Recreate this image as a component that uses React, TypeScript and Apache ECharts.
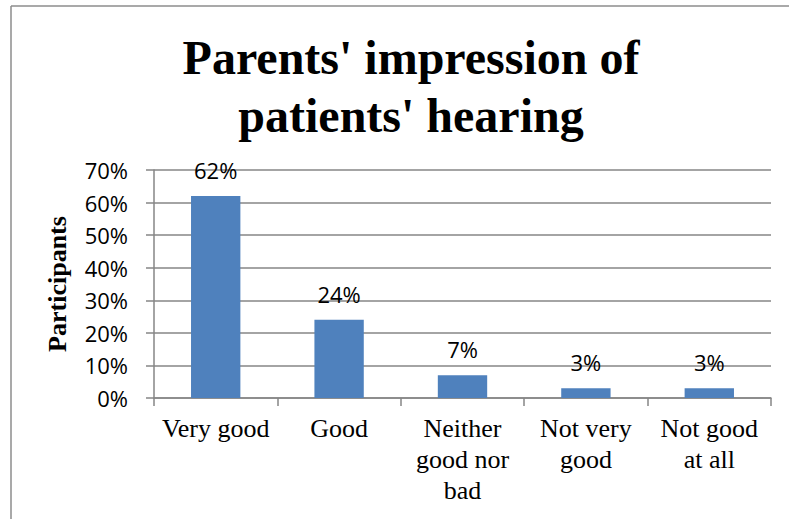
import React, { useEffect, useRef } from "react";
import * as echarts from "echarts";

const titleText = "Parents' impression of\npatients' hearing";
const categories = ["Very good", "Good", "Neither\ngood nor\nbad", "Not very\ngood", "Not good\nat all"];
const values = [62, 24, 7, 3, 3];
const yAxisName = "Participants";

export default function App() {
  const ref = useRef<HTMLDivElement>(null);
  useEffect(() => {
    if (!ref.current) return;
    const chart = echarts.init(ref.current, null, { renderer: "svg" });
    const gray = "#868686";
    chart.setOption({
      animation: false,
      backgroundColor: "#ffffff",
      title: {
        text: titleText,
        left: 406,
        top: 23,
        textAlign: "center",
        textStyle: {
          fontFamily: "Liberation Serif",
          fontWeight: "bold",
          fontSize: 48,
          lineHeight: 58,
          color: "#000",
        },
      },
      graphic: [
        { type: "line", shape: { x1: 11, y1: 6, x2: 789, y2: 6 }, style: { stroke: "#8c8c8c", lineWidth: 1.5 } },
        { type: "line", shape: { x1: 11, y1: 6, x2: 11, y2: 519 }, style: { stroke: "#8c8c8c", lineWidth: 1.5 } },
      ],
      grid: { left: 154, right: 18, top: 170, bottom: 121, containLabel: false },
      xAxis: {
        type: "category",
        data: categories,
        axisLine: { lineStyle: { color: gray, width: 1.5 } },
        axisTick: { show: true, length: 8, lineStyle: { color: gray, width: 1.5 } },
        axisLabel: {
          interval: 0,
          margin: 15,
          fontFamily: "Liberation Serif",
          fontSize: 26,
          lineHeight: 31,
          color: "#000",
        },
      },
      yAxis: {
        type: "value",
        min: 0,
        max: 70,
        interval: 10,
        name: yAxisName,
        nameLocation: "middle",
        nameGap: 84,
        nameTextStyle: {
          fontFamily: "Liberation Serif",
          fontWeight: "bold",
          fontSize: 26,
          color: "#000",
        },
        axisLine: { show: true, lineStyle: { color: gray, width: 1.5 } },
        axisTick: { show: true, length: 8, lineStyle: { color: gray, width: 1.5 } },
        splitLine: { show: true, lineStyle: { color: gray, width: 1.5 } },
        axisLabel: {
          formatter: "{value}%",
          margin: 26,
          fontFamily: "Open Sans",
          fontSize: 22,
          color: "#000",
        },
      },
      series: [
        {
          type: "bar",
          data: values,
          barCategoryGap: "60%",
          itemStyle: { color: "#4F81BD" },
          label: {
            show: true,
            position: "top",
            distance: 15,
            formatter: "{c}%",
            fontFamily: "Open Sans",
            fontSize: 22,
            color: "#000",
          },
        },
      ],
    });
    return () => chart.dispose();
  }, []);
  return <div ref={ref} style={{ position: "fixed", left: 0, top: 0, width: 789, height: 519 }} />;
}
